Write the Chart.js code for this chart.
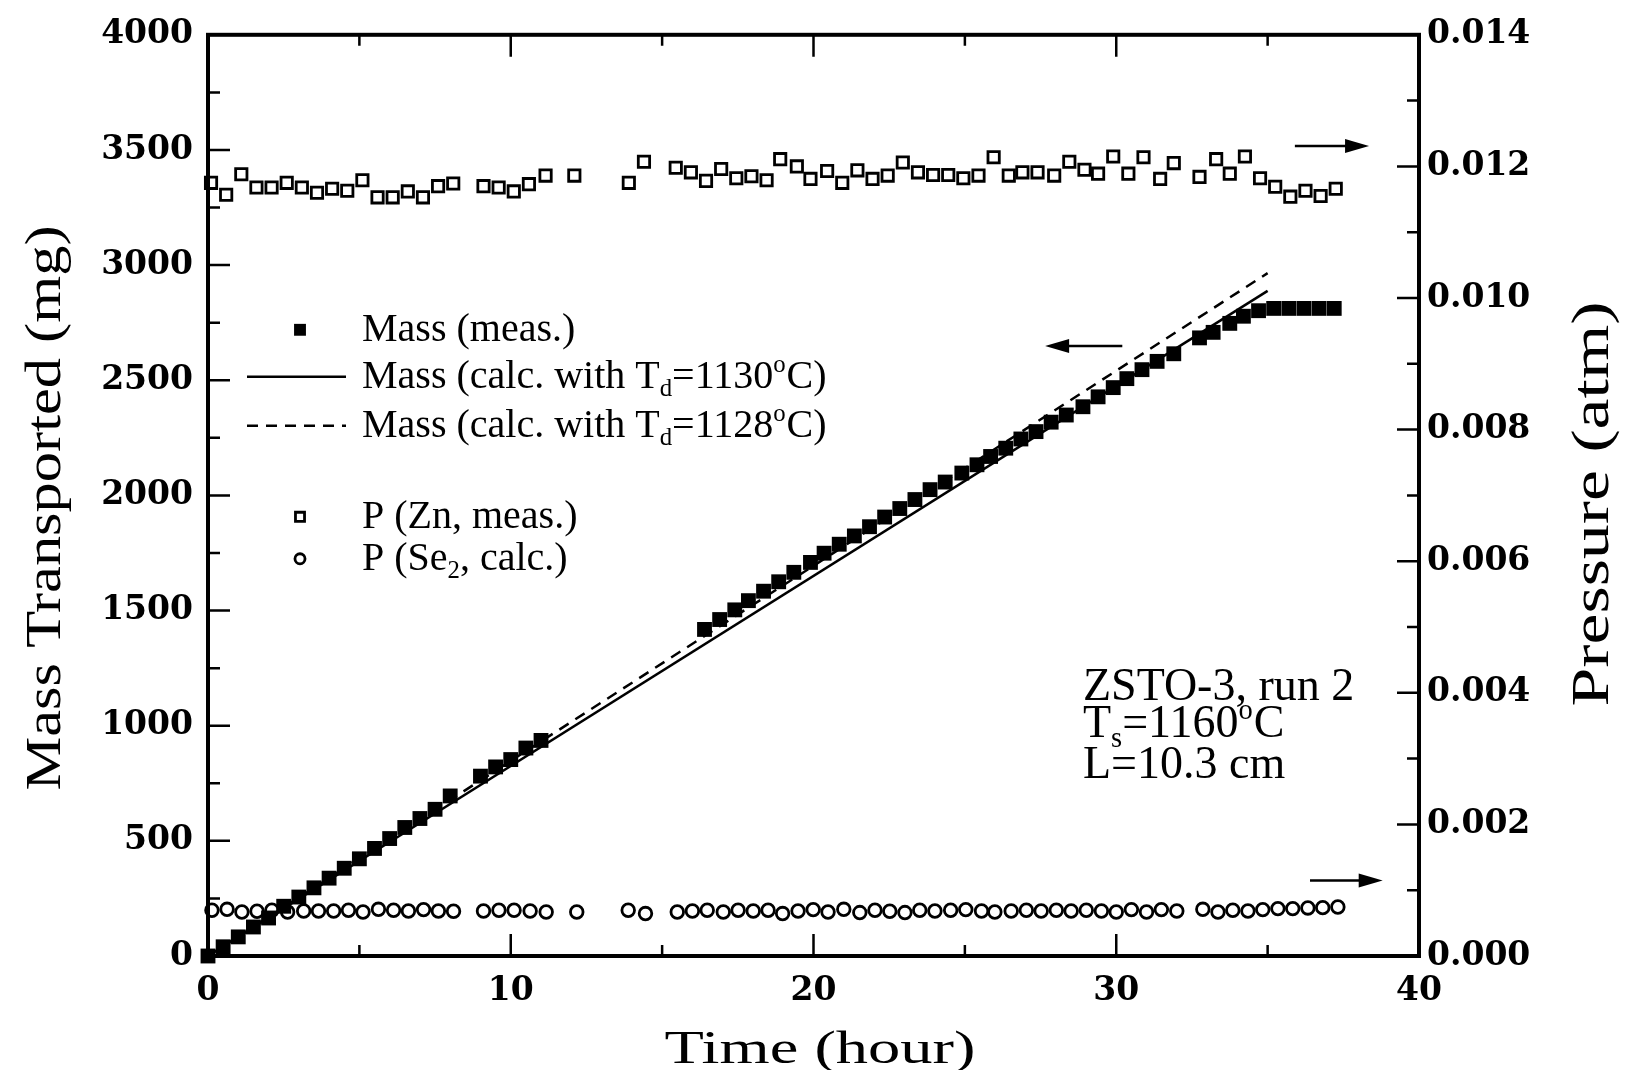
<!DOCTYPE html>
<html>
<head>
<meta charset="utf-8">
<script src="https://cdn.jsdelivr.net/npm/chart.js@4.4.0/dist/chart.umd.min.js"></script>
<style>
  html, body { margin: 0; background: #fff; }
</style>
</head>
<body>
<canvas id="myChart" width="1628" height="1070"></canvas>
<script>
// measured mass (mg) vs time (hour)
const massTime = [0, 0.5, 1, 1.5, 2, 2.5, 3, 3.5, 4, 4.5, 5, 5.5, 6, 6.5, 7, 7.5, 8, 9, 9.5, 10, 10.5, 11,
  16.4, 16.9, 17.4, 17.85, 18.35, 18.85, 19.35, 19.9, 20.35, 20.85, 21.35, 21.85, 22.35, 22.85, 23.35, 23.85,
  24.35, 24.9, 25.4, 25.85, 26.35, 26.85, 27.35, 27.85, 28.35, 28.9, 29.4, 29.9, 30.35, 30.85, 31.35, 31.9,
  32.75, 33.2, 33.75, 34.2, 34.7, 35.2, 35.7, 36.2, 36.7, 37.2];
const massMeas = [0, 40, 83, 126, 165, 216, 256, 296, 338, 381, 422, 467, 510, 558, 597, 637, 695, 781, 821, 853, 903, 936,
  1418, 1461, 1503, 1543, 1584, 1625, 1666, 1709, 1749, 1788, 1824, 1864, 1906, 1943, 1982, 2025,
  2058, 2097, 2133, 2169, 2205, 2245, 2277, 2318, 2349, 2385, 2428, 2468, 2507, 2546, 2582, 2615,
  2684, 2708, 2747, 2778, 2802, 2812, 2812, 2812, 2812, 2812];

// calculated mass lines
const calcTime = [0, 35];
const calc1130 = [0, 2888];
const calc1128 = [0, 2965];

// P(Zn) measured (atm)
const znTime = [0.1, 0.6, 1.1, 1.6, 2.1, 2.6, 3.1, 3.6, 4.1, 4.6, 5.1, 5.6, 6.1, 6.6, 7.1, 7.6, 8.1, 9.1, 9.6, 10.1, 10.6, 11.15, 12.1,
  13.9, 14.4, 15.45, 15.95, 16.45, 16.95, 17.45, 17.95, 18.45, 18.9, 19.45, 19.9, 20.45, 20.95, 21.45, 21.95,
  22.45, 22.95, 23.45, 23.95, 24.45, 24.95, 25.45, 25.95, 26.45, 26.9, 27.4, 27.95, 28.45, 28.95, 29.4, 29.9,
  30.4, 30.9, 31.45, 31.9, 32.75, 33.3, 33.75, 34.25, 34.75, 35.25, 35.75, 36.25, 36.75, 37.25];
const znP = [0.01175, 0.01157, 0.01188, 0.01168, 0.01168, 0.01175, 0.01168, 0.0116, 0.01166, 0.01163, 0.01179, 0.01153,
  0.01153, 0.01162, 0.01153, 0.0117, 0.01174, 0.0117, 0.01168, 0.01162, 0.01173, 0.01186, 0.01186,
  0.01175, 0.01207, 0.01198, 0.01191, 0.01178, 0.01196, 0.01182, 0.01185, 0.01179, 0.01211, 0.012, 0.01181,
  0.01193, 0.01175, 0.01194, 0.01181, 0.01186, 0.01206, 0.01191, 0.01187, 0.01187, 0.01182, 0.01186, 0.01214,
  0.01186, 0.01191, 0.01191, 0.01186, 0.01207, 0.01195, 0.01189, 0.01215, 0.01189, 0.01214, 0.01181, 0.01205,
  0.01184, 0.01211, 0.01189, 0.01215, 0.01182, 0.01169, 0.01154, 0.01163, 0.01155, 0.01166];

// P(Se2) calculated (atm)
const seTime = [0.13, 0.63, 1.12, 1.62, 2.11, 2.63, 3.16, 3.65, 4.15, 4.64, 5.12, 5.63, 6.13, 6.62, 7.12, 7.61, 8.11,
  9.1, 9.61, 10.11, 10.64, 11.17, 12.18,
  13.88, 14.45, 15.5, 16.0, 16.49, 17.02, 17.51, 18.01, 18.5, 18.98, 19.49, 19.99, 20.48, 21.0, 21.53, 22.03,
  22.52, 23.02, 23.51, 24.01, 24.53, 25.03, 25.55, 25.99,
  26.53, 27.03, 27.52, 28.02, 28.51, 29.01, 29.51, 30.0, 30.5, 31.0, 31.49, 32.0, 32.86, 33.36, 33.85, 34.35,
  34.84, 35.34, 35.83, 36.33, 36.82, 37.32];
const seP = [0.000695, 0.00071, 0.000669, 0.00068, 0.000695, 0.000669, 0.000684, 0.000684, 0.000684, 0.000695, 0.000669,
  0.00071, 0.000695, 0.000684, 0.000705, 0.000684, 0.00068, 0.000684, 0.000695, 0.000695, 0.000684, 0.000669, 0.000669,
  0.000695, 0.000645, 0.000669, 0.000684, 0.000695, 0.000669, 0.000695, 0.000684, 0.000695, 0.000645, 0.000684, 0.000705,
  0.000669, 0.00071, 0.00066, 0.000695, 0.00068, 0.00066, 0.000695, 0.000684, 0.000695, 0.000705, 0.000684, 0.000669,
  0.000684, 0.000695, 0.000684, 0.000695, 0.000684, 0.000695, 0.000684, 0.000669, 0.000705, 0.000669, 0.000705, 0.000684,
  0.00071, 0.000669, 0.000695, 0.000684, 0.000705, 0.00072, 0.00072, 0.00073, 0.000735, 0.000745];

// text bits (markup: _{sub} ^{sup})
const seriesLabels = ["Mass (meas.)", "Mass (calc. with T_{d}=1130^{o}C)", "Mass (calc. with T_{d}=1128^{o}C)",
  "P (Zn, meas.)", "P (Se_{2}, calc.)"];
const noteLines = ["ZSTO-3, run 2", "T_{s}=1160^{o}C", "L=10.3 cm"];
const xTitle = "Time (hour)";
const yTitle = "Mass Transported (mg)";
const y2Title = "Pressure (atm)";

const serif = "'Liberation Serif', 'Times New Roman', serif";
const tickFont = { family: "'DejaVu Serif', serif", size: 33, weight: "bold" };

function pts(xs, ys) {
  return xs.map((x, i) => ({ x: x, y: ys[i] }));
}

// draws a string with _{..} and ^{..} parts, y is the baseline
function drawRich(ctx, str, x, y, size) {
  const re = /([_^])\{([^}]*)\}/g;
  const parts = [];
  let last = 0, m;
  while ((m = re.exec(str))) {
    if (m.index > last) parts.push({ t: str.slice(last, m.index), k: "" });
    parts.push({ t: m[2], k: m[1] });
    last = re.lastIndex;
  }
  if (last < str.length) parts.push({ t: str.slice(last), k: "" });
  ctx.textAlign = "left";
  ctx.textBaseline = "alphabetic";
  for (const p of parts) {
    const s = p.k ? size * 0.62 : size;
    const dy = p.k === "_" ? size * 0.2 : p.k === "^" ? -size * 0.4 : 0;
    ctx.font = s + "px " + serif;
    ctx.fillText(p.t, x, y + dy);
    x += ctx.measureText(p.t).width + (p.k === "^" ? 1 : 0);
  }
}

// frame, inward ticks on all four sides
const framePlugin = {
  id: "frame",
  afterDatasetsDraw(chart) {
    const { ctx, chartArea: a, scales } = chart;
    ctx.save();
    ctx.strokeStyle = "#000";
    ctx.lineWidth = 2.5;
    ctx.beginPath();
    for (let v = 0; v <= 40; v += 5) {
      const px = scales.x.getPixelForValue(v);
      const len = v % 10 === 0 ? 22 : 11;
      ctx.moveTo(px, a.bottom); ctx.lineTo(px, a.bottom - len);
      ctx.moveTo(px, a.top); ctx.lineTo(px, a.top + len);
    }
    for (let v = 0; v <= 4000; v += 250) {
      const py = scales.y.getPixelForValue(v);
      ctx.moveTo(a.left, py); ctx.lineTo(a.left + (v % 500 === 0 ? 22 : 12), py);
    }
    for (let i = 0; i <= 14; i++) {
      const py = scales.y2.getPixelForValue(i * 0.001);
      ctx.moveTo(a.right, py); ctx.lineTo(a.right - (i % 2 === 0 ? 22 : 12), py);
    }
    ctx.stroke();
    ctx.lineWidth = 4;
    ctx.strokeRect(a.left, a.top, a.width, a.height);
    ctx.restore();
  }
};

// legend, notes, arrows and stretched axis titles
const notesPlugin = {
  id: "notes",
  afterDraw(chart) {
    const { ctx, chartArea: a, scales: { x, y } } = chart;
    ctx.save();
    ctx.fillStyle = "#000";
    ctx.strokeStyle = "#000";

    // legend
    const rows = [295, 342, 391, 482, 524];
    chart.data.datasets.forEach((ds, i) => {
      const cy = a.top + rows[i];
      if (ds.showLine) {
        ctx.lineWidth = ds.borderWidth;
        ctx.setLineDash(ds.borderDash || []);
        ctx.beginPath();
        ctx.moveTo(a.left + 39, cy);
        ctx.lineTo(a.left + 138, cy);
        ctx.stroke();
        ctx.setLineDash([]);
      } else {
        ctx.fillStyle = ds.backgroundColor;
        ctx.lineWidth = ds.borderWidth;
        Chart.helpers.drawPoint(ctx, {
          pointStyle: ds.pointStyle, radius: ds.pointRadius * 0.8,
          borderWidth: ds.borderWidth, rotation: 0
        }, a.left + 92, cy);
        ctx.fillStyle = "#000";
      }
      drawRich(ctx, seriesLabels[i], a.left + 154, cy + 11, 40);
    });

    // run notes
    const noteAt = [1174, 1010, 833];
    noteLines.forEach((t, i) => {
      drawRich(ctx, t, x.getPixelForValue(28.9), y.getPixelForValue(noteAt[i]) + 14, 46);
    });

    // arrows pointing at the axis each group belongs to
    const arrows = [[30.2, 27.65, 2649], [35.9, 38.35, 3517], [36.4, 38.8, 328]];
    ctx.lineWidth = 2.5;
    arrows.forEach(([t0, t1, m]) => {
      const x0 = x.getPixelForValue(t0), x1 = x.getPixelForValue(t1), py = y.getPixelForValue(m);
      const dir = Math.sign(x1 - x0);
      ctx.beginPath();
      ctx.moveTo(x0, py);
      ctx.lineTo(x1 - dir * 20, py);
      ctx.stroke();
      ctx.beginPath();
      ctx.moveTo(x1, py);
      ctx.lineTo(x1 - dir * 24, py - 7);
      ctx.lineTo(x1 - dir * 24, py + 7);
      ctx.closePath();
      ctx.fill();
    });

    // axis titles, stretched along their length like the original
    const titles = [
      { text: yTitle, cx: 47, cy: 508, size: 50, len: 565, rot: -Math.PI / 2 },
      { text: y2Title, cx: 1594, cy: 504, size: 52, len: 405, rot: -Math.PI / 2 },
      { text: xTitle, cx: 820, cy: 1051, size: 46, len: 311, rot: 0 }
    ];
    titles.forEach((t) => {
      ctx.save();
      ctx.font = t.size + "px " + serif;
      const w = ctx.measureText(t.text).width;
      ctx.translate(t.cx, t.cy);
      ctx.rotate(t.rot);
      ctx.scale(t.len / w, 1);
      ctx.textAlign = "center";
      ctx.textBaseline = "middle";
      ctx.fillText(t.text, 0, 0);
      ctx.restore();
    });
    ctx.restore();
  }
};

const data = {
  datasets: [
    {
      label: seriesLabels[0],
      data: pts(massTime, massMeas),
      yAxisID: "y",
      pointStyle: "rect",
      pointRadius: 10.5,
      backgroundColor: "#000",
      borderColor: "#000",
      borderWidth: 0,
      showLine: false,
      clip: false,
    },
    {
      label: seriesLabels[1],
      data: pts(calcTime, calc1130),
      yAxisID: "y",
      showLine: true,
      pointRadius: 0,
      borderColor: "#000",
      borderWidth: 2.5,
      clip: false,
    },
    {
      label: seriesLabels[2],
      data: pts(calcTime, calc1128),
      yAxisID: "y",
      showLine: true,
      pointRadius: 0,
      borderColor: "#000",
      borderWidth: 2.5,
      borderDash: [11, 8],
      clip: false,
    },
    {
      label: seriesLabels[3],
      data: pts(znTime, znP),
      yAxisID: "y2",
      pointStyle: "rect",
      pointRadius: 8,
      backgroundColor: "#fff",
      borderColor: "#000",
      borderWidth: 2.8,
      showLine: false,
      clip: false,
    },
    {
      label: seriesLabels[4],
      data: pts(seTime, seP),
      yAxisID: "y2",
      pointStyle: "circle",
      pointRadius: 6.3,
      backgroundColor: "#fff",
      borderColor: "#000",
      borderWidth: 2.8,
      showLine: false,
      clip: false,
    },
  ],
};

const config = {
  type: "scatter",
  data,
  options: {
    responsive: false,
    animation: false,
    layout: { padding: { top: 29, left: 0, right: 0, bottom: 0 } },
    plugins: {
      legend: { display: false },
      tooltip: { enabled: false },
    },
    scales: {
      x: {
        type: "linear",
        min: 0,
        max: 40,
        grid: { display: false, drawTicks: false },
        border: { display: false },
        ticks: { stepSize: 10, font: tickFont, color: "#000", padding: 16, maxRotation: 0, callback: (v) => String(v) },
        afterFit: (s) => { s.height = 114; },
      },
      y: {
        position: "left",
        min: 0,
        max: 4000,
        grid: { display: false, drawTicks: false },
        border: { display: false },
        ticks: { stepSize: 500, font: tickFont, color: "#000", padding: 15, callback: (v) => String(v) },
        afterFit: (s) => { s.width = 208; },
      },
      y2: {
        position: "right",
        min: 0,
        max: 0.014,
        grid: { display: false, drawTicks: false },
        border: { display: false },
        ticks: { stepSize: 0.002, font: tickFont, color: "#000", padding: 8, callback: (v) => v.toFixed(3) },
        afterFit: (s) => { s.width = 209; },
      },
    },
  },
  plugins: [framePlugin, notesPlugin],
};

const myChart = new Chart(document.getElementById("myChart"), config);
</script>
</body>
</html>
